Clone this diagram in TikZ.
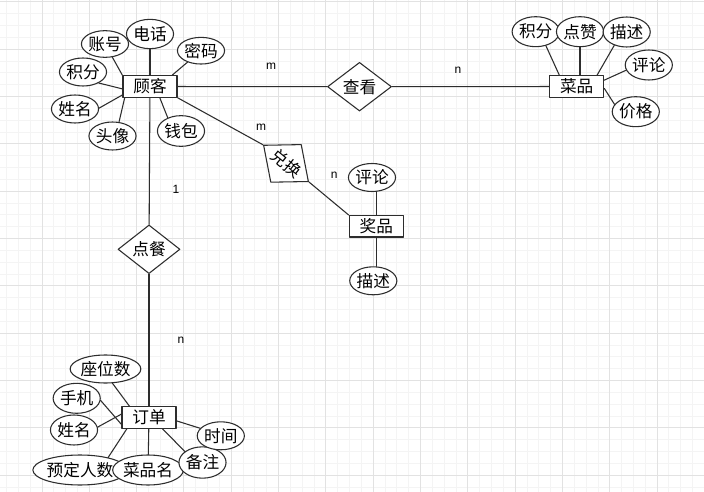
\documentclass[tikz,border=0pt]{standalone}
\usepackage{fontspec}
\usetikzlibrary{shapes.geometric}
\newfontfamily\cjk{Noto Sans CJK SC}
\newfontfamily\cardfont{Liberation Sans}
\definecolor{gridminor}{RGB}{244,244,244}
\definecolor{gridmajor}{RGB}{226,226,226}
\definecolor{erline}{RGB}{45,45,45}

\tikzset{
  cjktext/.style={font=\cjk\fontsize{12.5}{14}\selectfont},
  entity/.style={cjktext,rectangle,draw=erline,line width=0.9pt,fill=white,
    minimum width=40.5pt,minimum height=16pt,inner sep=0pt},
  attr/.style={cjktext,ellipse,draw=erline,line width=0.8pt,fill=white,
    minimum width=33.75pt,minimum height=21pt,inner sep=0pt},
  relation/.style={cjktext,diamond,draw=erline,line width=0.8pt,fill=white,
    minimum width=48pt,minimum height=32pt,inner sep=0pt},
  link/.style={erline,line width=0.8pt},
  card/.style={font=\cardfont\fontsize{9}{10}\selectfont,inner sep=0pt}
}

\begin{document}
\begin{tikzpicture}[x=0.75pt,y=-0.75pt,line cap=round,line join=round]
 \useasboundingbox[fill=white] (0,0) rectangle (704,492);
 % background grid
 \foreach \i in {-3,...,56}
  \draw[gridminor,line width=0.75pt] ({42+\i*11.83},0) -- ({42+\i*11.83},492);
 \foreach \j in {0,...,41}
  \draw[gridminor,line width=0.75pt] (0,{2+\j*11.83}) -- (704,{2+\j*11.83});
 \foreach \i in {0,...,13}
  \draw[gridmajor,line width=0.75pt] ({42+\i*47.32},0) -- ({42+\i*47.32},492);
 \foreach \j in {0,...,10}
  \draw[gridmajor,line width=0.75pt] (0,{2+\j*47.32}) -- (704,{2+\j*47.32});

 % entities and relations
 \node[entity] (guke) at (150,86.5) {顾客};
 \node[entity] (caipin) at (576.7,86.5) {菜品};
 \node[entity] (jiangpin) at (376.3,226.3) {奖品};
 \node[entity] (dingdan) at (149,417.5) {订单};
 \node[relation] (chakan) at (359.5,86.7) {查看};
 \node[relation,minimum width=43.5pt,minimum height=36.6pt,rotate=-39] (duihuan) at (286,163.4) {兑换};
 \node[relation,minimum width=46.5pt,minimum height=35pt] (diancan) at (149,249.3) {点餐};

 % attributes of 顾客
 \node[attr,minimum height=20pt] (gk-zh) at (105,44) {账号};
 \node[attr,minimum height=22pt] (gk-dh) at (150,34) {电话};
 \node[attr,minimum height=20pt] (gk-mm) at (201,50.7) {密码};
 \node[attr] (gk-jf) at (83,72) {积分};
 \node[attr] (gk-xm) at (75,109) {姓名};
 \node[attr] (gk-tx) at (112.5,136) {头像};
 \node[attr,minimum height=23pt] (gk-qb) at (181,131) {钱包};

 % attributes of 菜品
 \node[attr,minimum width=32.25pt,minimum height=22.5pt] (cp-jf) at (535.7,31.7) {积分};
 \node[attr,minimum width=32.25pt,minimum height=22.5pt] (cp-dz) at (580,31.7) {点赞};
 \node[attr,minimum width=32.25pt,minimum height=22.5pt] (cp-ms) at (626.7,32) {描述};
 \node[attr,minimum width=34pt,minimum height=22.5pt] (cp-pl) at (648.8,65) {评论};
 \node[attr,minimum width=31.5pt,minimum height=22.5pt] (cp-jg) at (635.8,111.7) {价格};

 % attributes of 奖品
 \node[attr,minimum width=28pt] (jp-pl) at (372,177.5) {评论};
 \node[attr,minimum width=30pt] (jp-ms) at (373.3,280.8) {描述};

 % attributes of 订单
 \node[attr,minimum width=45.75pt] (dd-zws) at (105.5,369) {座位数};
 \node[attr,minimum height=22.5pt] (dd-sj) at (76.7,398.3) {手机};
 \node[attr,minimum height=22.5pt] (dd-xm) at (74,430) {姓名};
 \node[attr,minimum width=62pt,minimum height=22.5pt] (dd-ydrs) at (80,470) {预定人数};
 \node[attr,minimum width=43pt,minimum height=22.5pt] (dd-cpm) at (148,470) {菜品名};
 \node[attr,minimum height=23.5pt] (dd-bz) at (202.5,462.5) {备注};
 \node[attr] (dd-sjn) at (220.8,435.8) {时间};

 % relationship lines
 \draw[link] (guke) -- (chakan);
 \draw[link] (chakan) -- (caipin);
 \draw[link] (guke.south east) -- (duihuan.west);
 \draw[link] (duihuan.east) -- (jiangpin.north west);
 \draw[link] (guke) -- (diancan);
 \draw[link] (diancan) -- (dingdan);

 % attribute lines
 \draw[link] (gk-zh) -- (guke.north west);
 \draw[link] (gk-dh) -- (guke);
 \draw[link] (gk-mm) -- (guke.27);
 \draw[link] (gk-jf.-35) -- (guke.185);
 \draw[link] (gk-xm.2) -- (guke.197);
 \draw[link] (gk-tx.65) -- (guke.204);
 \draw[link] (gk-qb.135) -- (guke.-49);
 \draw[link] (cp-jf.-54) -- (caipin.147);
 \draw[link] (cp-dz.south) -- (cp-dz.south |- caipin.north);
 \draw[link] (cp-ms.-133) -- (caipin.29);
 \draw[link] (cp-pl.193) -- (caipin.13);
 \draw[link] (cp-jg.161) -- (caipin.-4);
 \draw[link] (jiangpin.north) -- (jiangpin.north |- jp-pl.south);
 \draw[link] (jiangpin.south) -- (jiangpin.south |- jp-ms.north);
 \draw[link] (dd-zws.-64) -- (dingdan.150);
 \draw[link] (dd-sj.-5) -- (dingdan.194);
 \draw[link] (dd-xm.7) -- (dingdan.173);
 \draw[link] (dd-ydrs.24) -- (dingdan.207);
 \draw[link] (dingdan) -- (dd-cpm);
 \draw[link] (dd-bz.148) -- (dingdan.-40);
 \draw[link] (dd-sjn.160) -- (dingdan.-7);

 % cardinalities
 \node[card] (m-chakan) at (271,66.7) {m};
 \node[card] (n-chakan) at (458,70) {n};
 \node[card] (m-duihuan) at (261,127.3) {m};
 \node[card] (n-duihuan) at (334.3,175) {n};
 \node[card] (one-diancan) at (176,189) {1};
 \node[card] (n-diancan) at (181,340) {n};
\end{tikzpicture}
\end{document}
